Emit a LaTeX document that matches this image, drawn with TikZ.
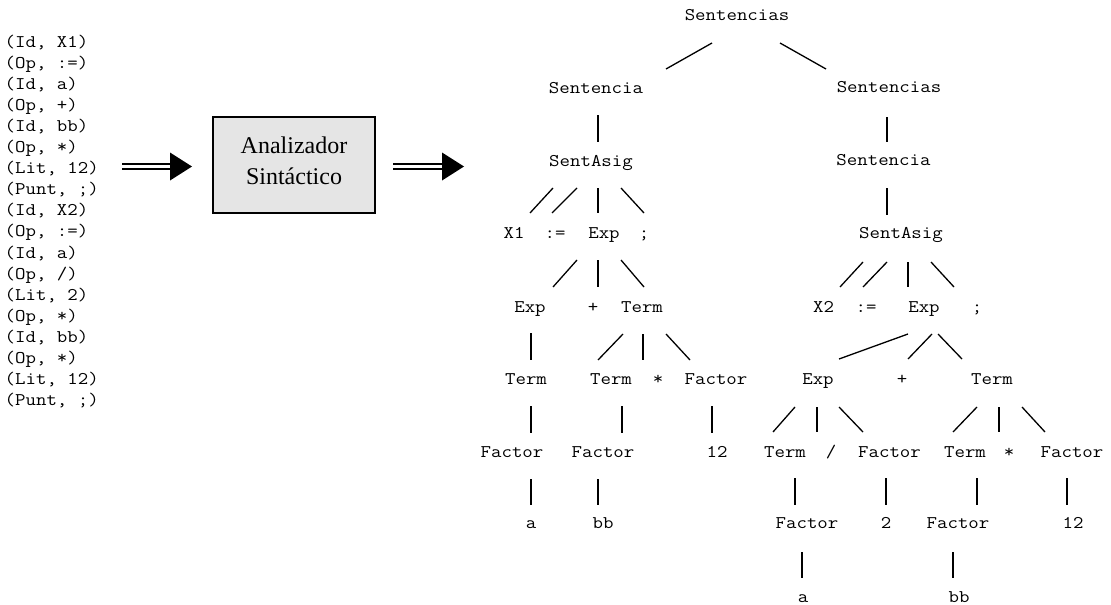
\documentclass[tikz,border=0pt]{standalone}
\usepackage{fontspec}
\setmainfont{Liberation Serif}
\setmonofont{Latin Modern Mono}[FakeStretch=1.14]
\usetikzlibrary{calc}

% double-shafted arrow with a solid triangular head
\newcommand\dblarrow[2]{%
  \draw[arrowbar] ($(#1)+(0,-2.7)$) -- ($(#2)+(-21,-2.7)$);
  \draw[arrowbar] ($(#1)+(0,2.7)$) -- ($(#2)+(-21,2.7)$);
  \fill ($(#2)+(-22,-14)$) -- (#2) -- ($(#2)+(-22,14)$) -- cycle;}

\begin{document}
\begin{tikzpicture}[x=1pt,y=-1pt,
  lbl/.style={font=\ttfamily\fontsize{17.8}{20}\selectfont, inner sep=0pt, anchor=base},
  tok/.style={font=\ttfamily\fontsize{17.8}{20}\selectfont, inner sep=0pt, anchor=base west},
  branch/.style={line width=1.3pt},
  procbox/.style={draw, line width=1.3pt, fill=gray!20, minimum width=162pt,
                  minimum height=96pt, inner sep=0pt},
  boxtext/.style={font=\fontsize{24}{30}\selectfont, inner sep=0pt, anchor=base},
  arrowbar/.style={line width=1.8pt}]
\useasboundingbox (0,0) rectangle (1111,605);

% token stream
\foreach \t [count=\i from 0] in {{(Id, X1)},{(Op, :=)},{(Id, a)},{(Op, +)},{(Id, bb)},
    {(Op, *)},{(Lit, 12)},{(Punt, ;)},{(Id, X2)},{(Op, :=)},{(Id, a)},{(Op, /)},
    {(Lit, 2)},{(Op, *)},{(Id, bb)},{(Op, *)},{(Lit, 12)},{(Punt, ;)}}
  \node[tok] (tok\i) at (4.5,{47+21.1*\i}) {\t};

% parser box
\node[procbox] (analizador) at (294,165) {};
\node[boxtext] (an1) at (294,153) {Analizador};
\node[boxtext] (an2) at (294,184) {Sintáctico};

\coordinate (inA) at (122,166.5);
\coordinate (inB) at (192,166.5);
\coordinate (outA) at (393,166.5);
\coordinate (outB) at (464,166.5);
\dblarrow{inA}{inB}
\dblarrow{outA}{outB}

% ---- syntax tree: labels ----
\node[lbl] (s0) at (737,20) {Sentencias};
% first statement
\node[lbl] (l1) at (596,93) {Sentencia};
\node[lbl] (l2) at (591,166) {SentAsig};
\node[lbl] (l3a) at (514,238) {X1};
\node[lbl] (l3b) at (555,238) {:=};
\node[lbl] (l3c) at (604,238) {Exp};
\node[lbl] (l3d) at (644,238) {;};
\node[lbl] (l4a) at (530,312) {Exp};
\node[lbl] (l4b) at (593,312) {+};
\node[lbl] (l4c) at (642,312) {Term};
\node[lbl] (l5a) at (526,384) {Term};
\node[lbl] (l5b) at (611,384) {Term};
\node[lbl] (l5c) at (658,384) {*};
\node[lbl] (l5d) at (716,384) {Factor};
\node[lbl] (l6a) at (512,457) {Factor};
\node[lbl] (l6b) at (603,457) {Factor};
\node[lbl] (l6c) at (717,457) {12};
\node[lbl] (l7a) at (531,528) {a};
\node[lbl] (l7b) at (603,528) {bb};
% remaining statements
\node[lbl] (r1) at (889,92) {Sentencias};
\node[lbl] (r2) at (883.5,165) {Sentencia};
\node[lbl] (r3) at (901,238) {SentAsig};
\node[lbl] (r4a) at (823.5,312) {X2};
\node[lbl] (r4b) at (866,312) {:=};
\node[lbl] (r4c) at (924,312) {Exp};
\node[lbl] (r4d) at (977,312) {;};
\node[lbl] (r5a) at (818,384) {Exp};
\node[lbl] (r5b) at (902,384) {+};
\node[lbl] (r5c) at (992,384) {Term};
\node[lbl] (r6a) at (785,457) {Term};
\node[lbl] (r6b) at (831,457) {/};
\node[lbl] (r6c) at (889.5,457) {Factor};
\node[lbl] (r6d) at (965,457) {Term};
\node[lbl] (r6e) at (1009,457) {*};
\node[lbl] (r6f) at (1072,457) {Factor};
\node[lbl] (r7a) at (807,528) {Factor};
\node[lbl] (r7b) at (886,528) {2};
\node[lbl] (r7c) at (958,528) {Factor};
\node[lbl] (r7d) at (1073,528) {12};
\node[lbl] (r8a) at (803,602) {a};
\node[lbl] (r8b) at (959,602) {bb};

% ---- syntax tree: branches ----
% root
\draw[branch] (712,43) -- (666,69);
\draw[branch] (780,43) -- (826,69);
% first statement
\draw[branch] (598,115) -- (598,142);
\draw[branch] (553,188) -- (530,213);
\draw[branch] (577,188) -- (552,213);
\draw[branch] (598,188) -- (598,213);
\draw[branch] (621,188) -- (644,213);
\draw[branch] (577,260) -- (553,287);
\draw[branch] (598,260) -- (598,287);
\draw[branch] (621,260) -- (644,287);
\draw[branch] (531,333) -- (531,360);
\draw[branch] (623,334) -- (598,360);
\draw[branch] (643,334) -- (643,360);
\draw[branch] (666,334) -- (690,360);
\draw[branch] (531,406) -- (531,433);
\draw[branch] (622,406) -- (622,433);
\draw[branch] (712,406) -- (712,433);
\draw[branch] (531,479) -- (531,505);
\draw[branch] (598,479) -- (598,505);
% remaining statements
\draw[branch] (887,117) -- (887,142);
\draw[branch] (887,188) -- (887,215);
\draw[branch] (863,262) -- (840,287);
\draw[branch] (887,262) -- (863,287);
\draw[branch] (908,262) -- (908,287);
\draw[branch] (931,262) -- (954,287);
\draw[branch] (908,334) -- (839,359);
\draw[branch] (932,334) -- (908,359);
\draw[branch] (938,334) -- (962,359);
\draw[branch] (795,407) -- (773,432);
\draw[branch] (817,407) -- (817,432);
\draw[branch] (839,407) -- (863,432);
\draw[branch] (977,407) -- (953,432);
\draw[branch] (999,407) -- (999,432);
\draw[branch] (1022,407) -- (1045,432);
\draw[branch] (795,478) -- (795,505);
\draw[branch] (886,478) -- (886,505);
\draw[branch] (977,478) -- (977,505);
\draw[branch] (1067,478) -- (1067,505);
\draw[branch] (802,552) -- (802,578);
\draw[branch] (953,552) -- (953,578);
\end{tikzpicture}
\end{document}
